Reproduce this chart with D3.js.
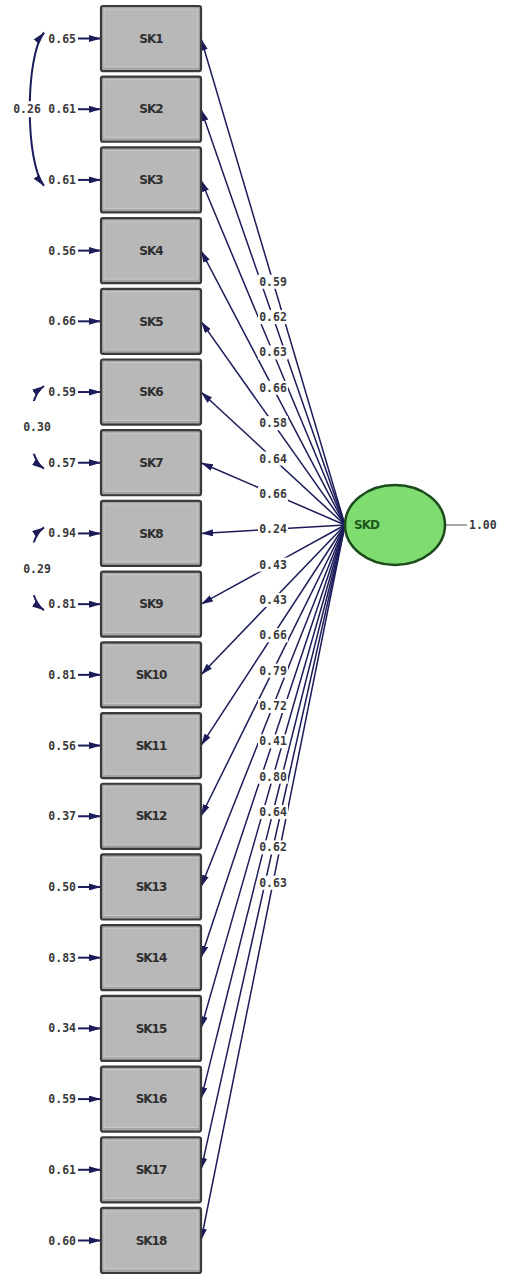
<!DOCTYPE html>
<html>
<head>
<meta charset="utf-8">
<script src="https://cdn.jsdelivr.net/npm/d3@7"></script>
<style>
  body { margin: 0; background: #fff; }
  svg { display: block; }
</style>
</head>
<body>
<div id="chart"></div>
<script>
// observed indicators, loadings on SKD and error variances
var items = ["SK1","SK2","SK3","SK4","SK5","SK6","SK7","SK8","SK9",
             "SK10","SK11","SK12","SK13","SK14","SK15","SK16","SK17","SK18"];
var loadings = [0.59,0.62,0.63,0.66,0.58,0.64,0.66,0.24,0.43,
                0.43,0.66,0.79,0.72,0.41,0.80,0.64,0.62,0.63];
var errors = [0.65,0.61,0.61,0.56,0.66,0.59,0.57,0.94,0.81,
              0.81,0.56,0.37,0.50,0.83,0.34,0.59,0.61,0.60];

// correlated errors
var covFrom = ["SK1","SK6","SK8"];
var covTo = ["SK3","SK7","SK9"];
var covValues = [0.26,0.30,0.29];

var latentName = "SKD";
var latentVariance = 1.00;

var w = 507,
    h = 1277;

var navy = "#1c1c5a",
    numFont = "'DejaVu Sans Mono', monospace";

var svg = d3.select("#chart").append("svg")
  .attr("width", w)
  .attr("height", h);

var defs = svg.append("defs");
defs.append("marker")
  .attr("id", "arr")
  .attr("viewBox", "0 0 12 7")
  .attr("refX", 12).attr("refY", 3.5)
  .attr("markerWidth", 12).attr("markerHeight", 7)
  .attr("markerUnits", "userSpaceOnUse")
  .attr("orient", "auto")
  .append("path").attr("d", "M0,0L12,3.5L0,7Z").attr("fill", navy);
defs.append("marker")
  .attr("id", "arrStart")
  .attr("viewBox", "0 0 12 7")
  .attr("refX", 0).attr("refY", 3.5)
  .attr("markerWidth", 12).attr("markerHeight", 7)
  .attr("markerUnits", "userSpaceOnUse")
  .attr("orient", "auto")
  .append("path").attr("d", "M12,0L0,3.5L12,7Z").attr("fill", navy);

// layout scales
var y = d3.scaleBand()
  .domain(items)
  .range([3.15, 1275.85])
  .paddingInner(0.08)
  .paddingOuter(0.04);

var boxX0 = 101, boxX1 = 201;
var latent = {cx: 395, cy: 525, rx: 50, ry: 40};
var hub = {x: latent.cx - latent.rx, y: latent.cy};
var yc = function(d){ return y(d) + y.bandwidth() / 2; };

var data = items.map(function(d, i){
  return {name: d, loading: loadings[i], error: errors[i], y: yc(d)};
});

//loading paths (arrow points to the indicator)
svg.append("g").selectAll("line")
  .data(data).enter()
  .append("line")
  .attr("x1", hub.x).attr("y1", hub.y)
  .attr("x2", boxX1).attr("y2", function(d){ return d.y; })
  .attr("stroke", navy)
  .attr("stroke-width", 1.5)
  .attr("marker-end", "url(#arr)");

//error arrows
var errG = svg.append("g").selectAll("g")
  .data(data).enter().append("g");
errG.append("line")
  .attr("x1", 78).attr("x2", boxX0)
  .attr("y1", function(d){ return d.y; })
  .attr("y2", function(d){ return d.y; })
  .attr("stroke", navy)
  .attr("stroke-width", 2)
  .attr("marker-end", "url(#arr)");
errG.append("text")
  .attr("x", 76)
  .attr("y", function(d){ return d.y; })
  .attr("dy", "0.35em")
  .attr("text-anchor", "end")
  .attr("font-family", numFont)
  .attr("font-size", "11.5px")
  .attr("font-weight", "bold")
  .attr("fill", "#3a3a3a")
  .text(function(d){ return d.error.toFixed(2); });

//correlated error curves
covFrom.forEach(function(a, i){
  var y1 = yc(a) - 6, y2 = yc(covTo[i]) + 6;
  var span = y2 - y1;
  var p = d3.path();
  p.moveTo(44, y1);
  p.bezierCurveTo(25, y1 + span * 0.15, 25, y2 - span * 0.15, 44, y2);
  svg.append("path")
    .attr("d", p.toString())
    .attr("fill", "none")
    .attr("stroke", navy)
    .attr("stroke-width", 2)
    .attr("marker-start", "url(#arrStart)")
    .attr("marker-end", "url(#arr)");

  var big = span > 100;
  var lx = big ? 27 : 37, ly = (y1 + y2) / 2;
  var bh = big ? 16 : span - 30;
  svg.append("rect")
    .attr("x", lx - 15).attr("y", ly - bh / 2)
    .attr("width", 30).attr("height", bh)
    .attr("fill", "#fff");
  svg.append("text")
    .attr("x", lx).attr("y", ly)
    .attr("dy", "0.35em")
    .attr("text-anchor", "middle")
    .attr("font-family", numFont)
    .attr("font-size", "11.5px")
    .attr("font-weight", "bold")
    .attr("fill", "#3a3a3a")
    .text(covValues[i].toFixed(2));
});

//indicator boxes
var box = svg.append("g").selectAll("g")
  .data(data).enter().append("g")
  .attr("transform", function(d){ return "translate(" + boxX0 + "," + y(d.name) + ")"; });
box.append("rect")
  .attr("width", boxX1 - boxX0)
  .attr("height", y.bandwidth())
  .attr("rx", 2)
  .attr("fill", "#a5a5a5")
  .attr("stroke", "#3a3a3a")
  .attr("stroke-width", 2.2);
box.append("rect")
  .attr("x", 3).attr("y", 3)
  .attr("width", boxX1 - boxX0 - 6)
  .attr("height", y.bandwidth() - 7)
  .attr("fill", "#b8b8b8")
  .attr("stroke", "#d0d0d0")
  .attr("stroke-width", 0.8);
box.append("text")
  .attr("x", (boxX1 - boxX0) / 2)
  .attr("y", y.bandwidth() / 2)
  .attr("dy", "0.35em")
  .attr("text-anchor", "middle")
  .attr("font-family", "'DejaVu Sans', sans-serif")
  .attr("font-size", "12px")
  .attr("font-weight", "bold")
  .attr("letter-spacing", "-1")
  .attr("fill", "#2e2e2e")
  .text(function(d){ return d.name; });

//loading labels at the middle of each path
var lab = svg.append("g").selectAll("g")
  .data(data).enter().append("g")
  .attr("transform", function(d){
    return "translate(" + ((hub.x + boxX1) / 2) + "," + ((hub.y + d.y) / 2) + ")";
  });
lab.append("rect")
  .attr("x", -15).attr("y", -7)
  .attr("width", 30).attr("height", 14)
  .attr("fill", "#fff");
lab.append("text")
  .attr("dy", "0.35em")
  .attr("text-anchor", "middle")
  .attr("font-family", numFont)
  .attr("font-size", "11.5px")
  .attr("font-weight", "bold")
  .attr("fill", "#3a3a3a")
  .text(function(d){ return d.loading.toFixed(2); });

//latent variable
svg.append("line")
  .attr("x1", latent.cx + latent.rx).attr("x2", latent.cx + latent.rx + 22)
  .attr("y1", latent.cy).attr("y2", latent.cy)
  .attr("stroke", "#555")
  .attr("stroke-width", 1);
svg.append("text")
  .attr("x", latent.cx + latent.rx + 24)
  .attr("y", latent.cy)
  .attr("dy", "0.35em")
  .attr("font-family", numFont)
  .attr("font-size", "11.5px")
  .attr("font-weight", "bold")
  .attr("fill", "#3a3a3a")
  .text(latentVariance.toFixed(2));
svg.append("ellipse")
  .attr("cx", latent.cx).attr("cy", latent.cy)
  .attr("rx", latent.rx).attr("ry", latent.ry)
  .attr("fill", "#7fdc70")
  .attr("stroke", "#1d4a1d")
  .attr("stroke-width", 2.5);
svg.append("text")
  .attr("x", hub.x + 9)
  .attr("y", latent.cy)
  .attr("dy", "0.35em")
  .attr("font-family", "'DejaVu Sans', sans-serif")
  .attr("font-size", "12px")
  .attr("font-weight", "bold")
  .attr("letter-spacing", "-1")
  .attr("fill", "#1d5a1d")
  .text(latentName);
</script>
</body>
</html>
